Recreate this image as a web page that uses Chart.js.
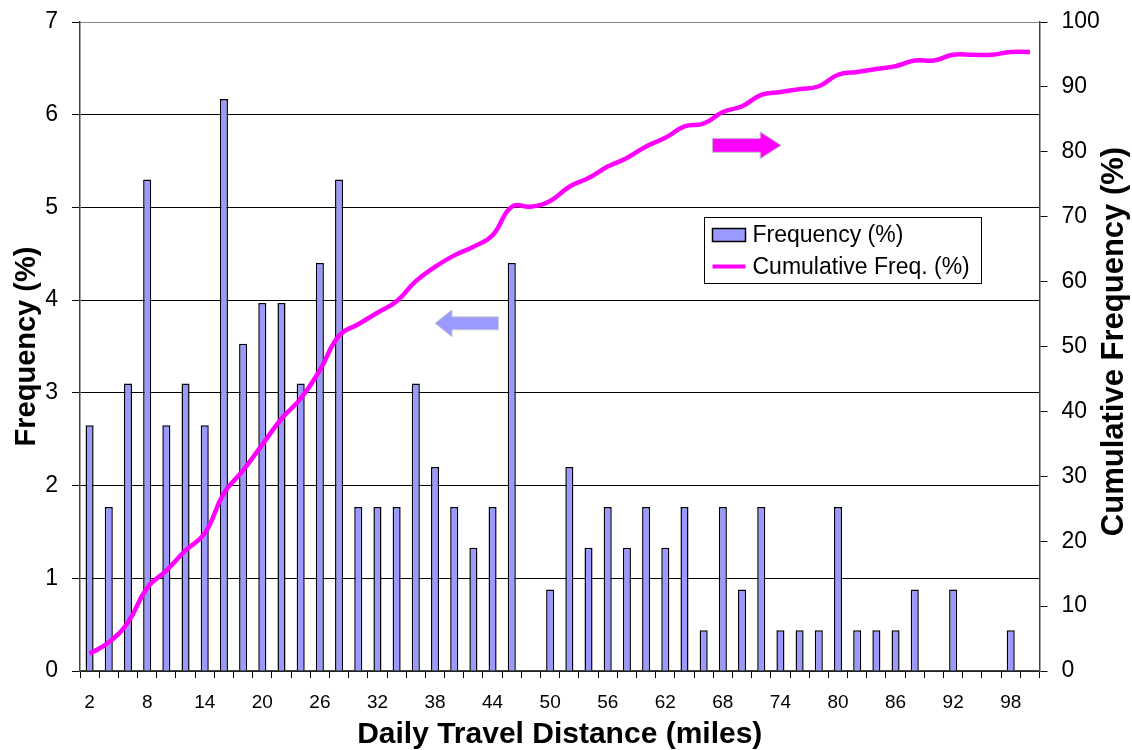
<!DOCTYPE html>
<html>
<head>
<meta charset="utf-8">
<script src="https://cdn.jsdelivr.net/npm/chart.js@4.4.1/dist/chart.umd.min.js"></script>
<style>
html,body{margin:0;padding:0;background:#fff;}
#wrap{width:1132px;height:750px;}
</style>
</head>
<body>
<div id="wrap"><canvas id="travelChart" width="1132" height="750"></canvas></div>
<script>
var distances=[2,4,6,8,10,12,14,16,18,20,22,24,26,28,30,32,34,36,38,40,42,44,46,48,50,
	52,54,56,58,60,62,64,66,68,70,72,74,76,78,80,82,84,86,88,90,92,94,96,98,100];
var freqData=[2.65,1.77,3.1,5.3,2.65,3.1,2.65,6.17,3.53,3.97,3.97,3.1,4.4,5.3,1.77,1.77,1.77,3.1,2.2,1.77,1.33,1.77,4.4,0,0.88,
	2.2,1.33,1.77,1.33,1.77,1.33,1.77,0.44,1.77,0.88,1.77,0.44,0.44,0.44,1.77,0.44,0.44,0.44,0.88,0,0.88,0,0,0.44,0];
var cumData=[2.65,4.42,7.52,12.82,15.47,18.57,21.22,27.39,30.92,34.89,38.86,41.96,46.36,51.66,53.43,55.2,56.97,60.07,62.27,64.04,65.37,67.14,71.54,71.54,72.42,
	74.62,75.95,77.72,79.05,80.82,82.15,83.92,84.36,86.13,87.01,88.78,89.22,89.66,90.1,91.87,92.31,92.75,93.19,94.07,94.07,94.95,94.95,94.95,95.39,95.39];
var freqTicks=[0,1,2,3,4,5,6,7];
var cumTicks=[0,10,20,30,40,50,60,70,80,90,100];

var fontName='"Liberation Sans", Arial, sans-serif';
var barColor="#9999FF";
var lineColor="#FF00FF";

function drawArrow(ctx,tailX,tipX,cy,shaftHalf,headHalf,headLen,fill){
	var dir=tipX>tailX?1:-1;
	var baseX=tipX-dir*headLen;
	ctx.beginPath();
	ctx.moveTo(tailX,cy-shaftHalf);
	ctx.lineTo(baseX,cy-shaftHalf);
	ctx.lineTo(baseX,cy-headHalf);
	ctx.lineTo(tipX,cy);
	ctx.lineTo(baseX,cy+headHalf);
	ctx.lineTo(baseX,cy+shaftHalf);
	ctx.lineTo(tailX,cy+shaftHalf);
	ctx.closePath();
	ctx.fillStyle=fill;
	ctx.fill();
	ctx.strokeStyle="#c8c8c8";
	ctx.lineWidth=1;
	ctx.stroke();
}

var extras={
	id:"extras",
	afterDraw:function(chart){
		var ctx=chart.ctx;
		var xs=chart.scales.x, ys=chart.scales.y, y2=chart.scales.y1;
		var area=chart.chartArea;
		ctx.save();
		// arrows
		drawArrow(ctx,xs.getPixelForValue(21.3),xs.getPixelForValue(18.0),ys.getPixelForValue(3.75),6.5,13.5,17,barColor);
		drawArrow(ctx,xs.getPixelForValue(32.45),xs.getPixelForValue(36.04),y2.getPixelForValue(81),7,13.5,21,lineColor);
		// legend
		var lx=Math.round(xs.getPixelForValue(32.03))+0.5;
		var ly=Math.round(y2.getPixelForValue(70))+0.5;
		ctx.fillStyle="#fff";
		ctx.fillRect(lx,ly,277,66);
		ctx.strokeStyle="#000";
		ctx.lineWidth=1;
		ctx.strokeRect(lx,ly,277,66);
		ctx.fillStyle=barColor;
		ctx.fillRect(lx+8,ly+11,33,13);
		ctx.lineWidth=1.5;
		ctx.strokeRect(lx+8,ly+11,33,13);
		ctx.beginPath();
		ctx.moveTo(lx+8,ly+49);
		ctx.lineTo(lx+41,ly+49);
		ctx.strokeStyle=lineColor;
		ctx.lineWidth=4;
		ctx.stroke();
		ctx.fillStyle="#000";
		ctx.font="23px "+fontName;
		ctx.textAlign="left";
		ctx.textBaseline="middle";
		ctx.fillText("Frequency (%)",lx+48,ly+18);
		ctx.fillText("Cumulative Freq. (%)",lx+48,ly+50);
		// right axis title, reading bottom to top
		ctx.translate(y2.right-18,(area.top+area.bottom)/2-5);
		ctx.rotate(-Math.PI/2);
		ctx.font="bold 31px "+fontName;
		ctx.textAlign="center";
		ctx.fillText("Cumulative Frequency (%)",0,0);
		ctx.restore();
	}
};

var ctx=document.getElementById("travelChart").getContext("2d");
var chart=new Chart(ctx,{
	type:"bar",
	data:{
		labels:distances,
		datasets:[
			{
				type:"line",
				label:"Cumulative Freq. (%)",
				data:cumData,
				yAxisID:"y1",
				borderColor:lineColor,
				borderWidth:4.5,
				pointRadius:0,
				tension:0.45,
				fill:false,
				order:0
			},
			{
				label:"Frequency (%)",
				data:freqData,
				yAxisID:"y",
				backgroundColor:barColor,
				borderColor:"#000",
				borderWidth:1.5,
				barPercentage:0.42,
				categoryPercentage:1,
				order:1
			}
		]
	},
	options:{
		responsive:false,
		animation:false,
		layout:{padding:{top:22,left:0,right:0,bottom:0}},
		plugins:{legend:{display:false},tooltip:{enabled:false}},
		scales:{
			x:{
				grid:{offset:true,drawOnChartArea:false,drawTicks:true,tickLength:7,color:"#000"},
				border:{color:"#444",width:1.5},
				ticks:{
					autoSkip:false,maxRotation:0,minRotation:0,padding:13,color:"#000",
					font:{family:fontName,size:19},
					callback:function(val,idx){return idx%3===0?this.getLabelForValue(val):"";}
				},
				title:{display:true,text:"Daily Travel Distance (miles)",color:"#000",
					font:{family:fontName,size:30,weight:"bold",lineHeight:1},padding:{top:0,bottom:0}},
				afterFit:function(s){s.height=79;}
			},
			y:{
				position:"left",min:0,max:7,
				afterBuildTicks:function(s){s.ticks=freqTicks.map(function(v){return {value:v};});},
				ticks:{padding:14,color:"#000",font:{family:fontName,size:23}},
				grid:{color:function(c){return c.tick&&c.tick.value===7?"#888":"#000";},tickColor:"#000",tickLength:8,lineWidth:1},
				border:{color:"#444",width:1.5},
				title:{display:true,text:"Frequency (%)",color:"#000",
					font:{family:fontName,size:29,weight:"bold"},padding:{top:10,bottom:0}},
				afterFit:function(s){s.width=80;s.paddingTop=0;s.paddingBottom=0;}
			},
			y1:{
				position:"right",min:0,max:100,
				afterBuildTicks:function(s){s.ticks=cumTicks.map(function(v){return {value:v};});},
				ticks:{padding:14,color:"#000",font:{family:fontName,size:23}},
				grid:{drawOnChartArea:false,color:"#000",tickLength:8},
				border:{color:"#444",width:1.5},
				afterFit:function(s){s.width=92.5;s.paddingTop=0;s.paddingBottom=0;}
			}
		}
	},
	plugins:[extras]
});
</script>
</body>
</html>
